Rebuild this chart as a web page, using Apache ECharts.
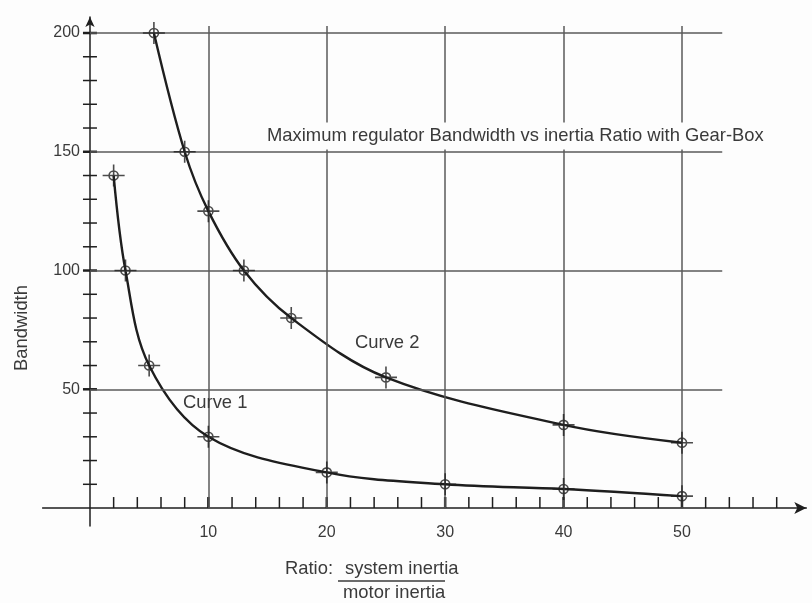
<!DOCTYPE html>
<html>
<head>
<meta charset="utf-8">
<script src="https://cdn.jsdelivr.net/npm/echarts@6/dist/echarts.min.js"></script>
<style>
  html, body { margin: 0; padding: 0; background: #fdfdfd; }
  #chart { width: 812px; height: 603px; }
</style>
</head>
<body>
<div id="chart"></div>
<script>
// Inertia ratio (system / motor) and maximum regulator bandwidth
const curve1Ratio = [2, 3, 5, 10, 20, 30, 40, 50];
const curve1Bandwidth = [140, 100, 60, 30, 15, 10, 8, 5];
const curve2Ratio = [5.4, 8, 10, 13, 17, 25, 40, 50];
const curve2Bandwidth = [200, 150, 125, 100, 80, 55, 35, 27.5];

const xTickValues = [2, 4, 6, 8, 10, 12, 14, 16, 18, 20, 22, 24, 26, 28, 30, 32, 34, 36, 38, 40, 42, 44, 46, 48, 50, 52, 54, 56, 58];
const xLabelValues = [10, 20, 30, 40, 50];
const yTickValues = [10, 20, 30, 40, 50, 60, 70, 80, 90, 100, 110, 120, 130, 140, 150, 160, 170, 180, 190, 200];
const yLabelValues = [50, 100, 150, 200];
const hGridValues = [50, 100, 150, 200];
const vGridValues = [10, 20, 30, 40, 50];

const INK = '#1e1e1e';
const GRID = '#5a5a5a';
const TEXT = '#3a3a3a';
const FONT = '"Liberation Sans", Arial, sans-serif';

const chart = echarts.init(document.getElementById('chart'));

const pair = (a, b) => a.map((v, i) => [v, b[i]]);

// crosshair marker: circle with a cross through it
const crossMark = 'path://M0,12L24,12M12,0L12,24M17,12A5,5,0,1,1,7,12A5,5,0,1,1,17,12';

const gridLines = [];
hGridValues.forEach(v => gridLines.push([{ coord: [0, v] }, { coord: [53.4, v] }]));
vGridValues.forEach(v => gridLines.push([{ coord: [v, 0] }, { coord: [v, 203] }]));

function tickSeries(values, horizontal) {
  return {
    type: 'custom',
    silent: true,
    data: values,
    z: 3,
    renderItem: function (params, api) {
      const v = api.value(0);
      if (horizontal) {
        const p = api.coord([v, 0]);
        const major = v % 10 === 0;
        return {
          type: 'line',
          shape: { x1: p[0], y1: p[1], x2: p[0], y2: p[1] - 11 },
          style: { stroke: INK, lineWidth: major ? 2.5 : 1.5 }
        };
      }
      const p = api.coord([0, v]);
      const major = v % 50 === 0;
      return {
        type: 'line',
        shape: { x1: p[0] - 7, y1: p[1], x2: p[0] + 7, y2: p[1] },
        style: { stroke: INK, lineWidth: major ? 2.5 : 1.5 }
      };
    },
    encode: horizontal ? { x: 0 } : { y: 0 }
  };
}

function label(text, x, y, extra) {
  return {
    type: 'text', x: x, y: y, z: 100,
    style: Object.assign({
      text: text, font: '18.4px ' + FONT, fill: TEXT, verticalAlign: 'middle'
    }, extra || {})
  };
}

chart.setOption({
  backgroundColor: '#fdfdfd',
  animation: false,
  grid: { left: 42.6, right: 5.7, top: 17.1, bottom: 76.9, containLabel: false },
  xAxis: {
    type: 'value',
    min: -4,
    max: 60.5,
    splitLine: { show: false },
    axisTick: { show: false },
    axisLine: {
      onZero: true,
      symbol: ['none', 'arrow'],
      symbolSize: [9, 12],
      lineStyle: { color: INK, width: 1.5 }
    },
    axisLabel: {
      customValues: xLabelValues,
      color: TEXT,
      fontFamily: FONT,
      fontSize: 16,
      margin: -2
    }
  },
  yAxis: {
    type: 'value',
    min: -7.6,
    max: 206.7,
    splitLine: { show: false },
    axisTick: { show: false },
    axisLine: {
      onZero: true,
      symbol: ['none', 'arrow'],
      symbolSize: [7, 10],
      lineStyle: { color: INK, width: 1.5 }
    },
    axisLabel: {
      customValues: yLabelValues,
      color: TEXT,
      fontFamily: FONT,
      fontSize: 16,
      margin: -37.4
    }
  },
  series: [
    {
      type: 'line',
      data: [],
      silent: true,
      markLine: {
        silent: true,
        symbol: ['none', 'none'],
        label: { show: false },
        lineStyle: { color: GRID, width: 1.5, type: 'solid' },
        data: gridLines
      }
    },
    tickSeries(xTickValues, true),
    tickSeries(yTickValues, false),
    {
      name: 'Curve 1',
      type: 'line',
      data: pair(curve1Ratio, curve1Bandwidth),
      smooth: 0.35,
      showSymbol: false,
      lineStyle: { color: INK, width: 2.4 },
      z: 4
    },
    {
      name: 'Curve 2',
      type: 'line',
      data: pair(curve2Ratio, curve2Bandwidth),
      smooth: 0.35,
      showSymbol: false,
      lineStyle: { color: INK, width: 2.4 },
      z: 4
    },
    {
      type: 'scatter',
      data: pair(curve1Ratio, curve1Bandwidth).concat(pair(curve2Ratio, curve2Bandwidth)),
      symbol: crossMark,
      symbolSize: 22,
      itemStyle: { color: 'rgba(0,0,0,0)', borderColor: INK, borderWidth: 1.6 },
      z: 5
    }
  ],
  graphic: [
    label('Maximum regulator Bandwidth vs inertia Ratio with Gear-Box', 267, 136,
      { backgroundColor: '#fdfdfd', padding: [5, 0, 4, 0] }),
    label('Curve 2', 355, 343),
    label('Curve 1', 183, 403),
    {
      type: 'text', x: 22, y: 328, rotation: Math.PI / 2, z: 100,
      style: { text: 'Bandwidth', font: '18.4px ' + FONT, fill: TEXT, align: 'center', verticalAlign: 'middle' }
    },
    label('Ratio:', 285, 569),
    label('system inertia', 345, 569),
    {
      type: 'line', z: 100,
      shape: { x1: 338, y1: 581, x2: 445, y2: 581 },
      style: { stroke: TEXT, lineWidth: 1.3 }
    },
    label('motor inertia', 343, 593)
  ]
});
</script>
</body>
</html>
